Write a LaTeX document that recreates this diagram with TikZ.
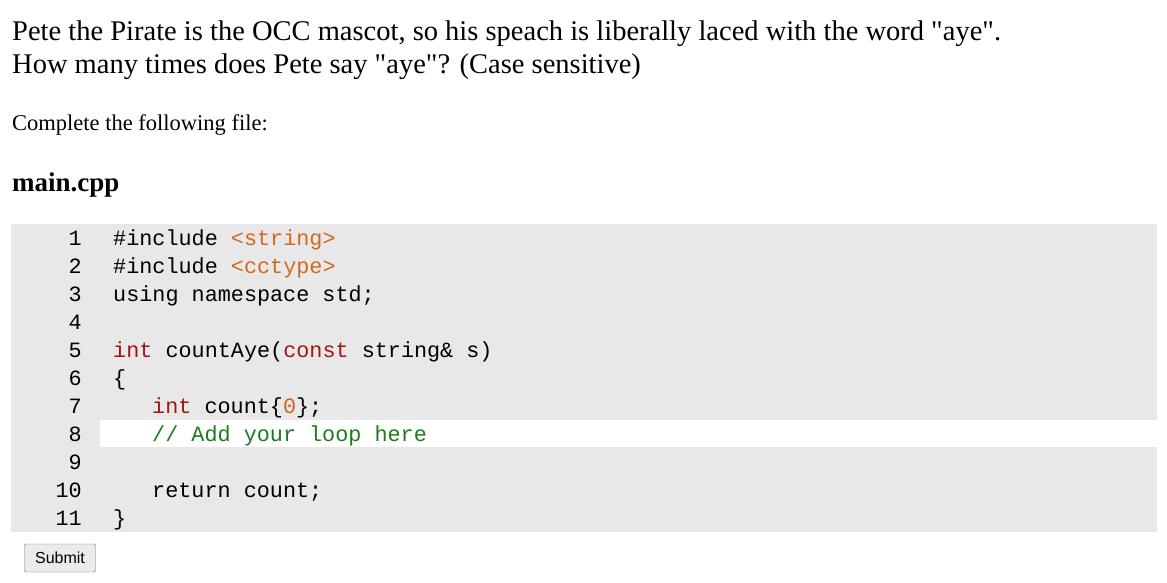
\documentclass[tikz,border=0pt]{standalone}
\usepackage{fontspec}
\setmainfont{Liberation Serif}
\setmonofont{Liberation Mono}
\setsansfont{Liberation Sans}
\definecolor{kw}{HTML}{A31515}
\definecolor{str}{HTML}{D2691E}
\definecolor{cmt}{HTML}{1E7A1E}
\definecolor{num}{HTML}{C8641E}
\definecolor{codebg}{HTML}{E8E8E8}
\begin{document}
\begin{tikzpicture}[x=1pt,y=-1pt,
  para/.style={anchor=base west,inner sep=0pt,font=\fontsize{28.5}{32}\selectfont},
  code/.style={anchor=base west,inner sep=0pt,font=\ttfamily\fontsize{21.8}{28}\selectfont},
  lnum/.style={anchor=base east,inner sep=0pt,font=\ttfamily\fontsize{21.8}{28}\selectfont}]
\useasboundingbox (0,0) rectangle (1167,582);
\fill[white] (0,0) rectangle (1167,582);
\node[para] (t1) at (12,40) {Pete the Pirate is the OCC mascot, so his speach is liberally laced with the word \textquotedbl aye\textquotedbl.};
\node[para] (t2) at (12,73) {How many times does Pete say \textquotedbl aye\textquotedbl? (Case sensitive)};
\node[para,font=\fontsize{22.5}{26}\selectfont] (t3) at (12,130) {Complete the following file:};
\node[para,font=\bfseries\fontsize{27}{30}\selectfont] (t4) at (12,191) {main.cpp};
\fill[codebg] (11,224) rectangle (1157,532);
\fill[white] (100,420) rectangle (1157,447);
\foreach \n [count=\i] in {1,...,11} {
  \node[lnum] (n\i) at (82,{245+28*(\i-1)}) {\n};
}
\node[code] (c1) at (113,245) {\#include \textcolor{str}{<string>}};
\node[code] (c2) at (113,273) {\#include \textcolor{str}{<cctype>}};
\node[code] (c3) at (113,301) {using namespace std;};
\node[code] (c5) at (113,357) {\textcolor{kw}{int} countAye(\textcolor{kw}{const} string\& s)};
\node[code] (c6) at (113,385) {\{};
\node[code] (c7) at (152,413) {\textcolor{kw}{int} count\{\textcolor{num}{0}\};};
\node[code] (c8) at (152,441) {\textcolor{cmt}{// Add your loop here}};
\node[code] (c10) at (152,497) {return count;};
\node[code] (c11) at (113,525) {\}};
\node[draw=black!55,fill=black!8,rounded corners=1.5,minimum width=71,minimum height=28,inner sep=0pt,font=\sffamily\fontsize{16}{18}\selectfont] (sub) at (60,558) {Submit};
\end{tikzpicture}
\end{document}
